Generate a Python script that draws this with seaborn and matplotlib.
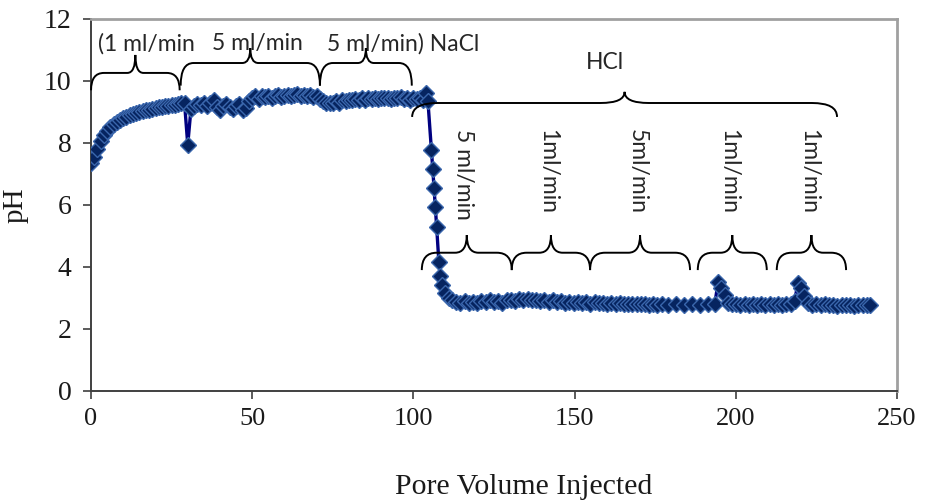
"""pH of effluent vs pore volume injected (NaCl then HCl flooding)."""
import matplotlib
matplotlib.use("Agg")

import matplotlib.pyplot as plt
import pandas as pd
import seaborn as sns
from matplotlib.patches import PathPatch
from matplotlib.path import Path

# ---------------------------------------------------------------------------
# Data
# ---------------------------------------------------------------------------

pv_nacl = [
    0, 1, 2, 3, 4, 5, 6, 7, 8, 9, 10, 11, 12, 13, 14, 15, 16, 17, 18, 19,
    20, 21, 22, 23, 24, 25, 26, 27, 28, 29, 30, 31, 32, 33, 34, 35, 36, 37, 38, 39,
    40, 41, 42, 43, 44, 45, 46, 47, 48, 49, 50, 51, 52, 53, 54, 55, 56, 57, 58, 59,
    60, 61, 62, 63, 64, 65, 66, 67, 68, 69, 70, 71, 72, 73, 74, 75, 76, 77, 78, 79,
    80, 81, 82, 83, 84, 85, 86, 87, 88, 89, 90, 91, 92, 93, 94, 95, 96, 97, 98, 99,
    100, 101, 102, 103, 104,
]
ph_nacl = [
    7.35, 7.55, 7.8, 8.05, 8.25, 8.4, 8.5, 8.6, 8.68, 8.74, 8.8, 8.85, 8.9, 8.93, 8.97, 9.0, 9.03, 9.06, 9.08, 9.1,
    9.12, 9.15, 9.17, 9.18, 9.2, 9.22, 9.24, 9.25, 9.28, 9.3, 7.95, 9.1, 9.2, 9.25, 9.22, 9.28, 9.2, 9.3, 9.4, 9.15,
    9.05, 9.2, 9.25, 9.15, 9.1, 9.2, 9.25, 9.05, 9.12, 9.35, 9.45, 9.5, 9.42, 9.5, 9.48, 9.52, 9.45, 9.5, 9.55, 9.48,
    9.52, 9.56, 9.5, 9.55, 9.58, 9.52, 9.56, 9.5, 9.54, 9.48, 9.5, 9.42, 9.35, 9.3, 9.28, 9.3, 9.35, 9.3, 9.38, 9.35,
    9.4, 9.38, 9.42, 9.4, 9.44, 9.4, 9.45, 9.42, 9.45, 9.43, 9.46, 9.44, 9.46, 9.42, 9.45, 9.44, 9.47, 9.43, 9.45, 9.4,
    9.46, 9.42, 9.45, 9.4, 9.6,
]

pv_drop = [104.5, 105.6, 106.0, 106.4, 106.8, 107.2, 107.9, 108.3, 108.9, 109.8, 110.9]
ph_drop = [9.35, 7.77, 7.16, 6.55, 5.94, 5.3, 4.15, 3.7, 3.42, 3.15, 3.0]

pv_hcl = [
    112.0, 113.3, 114.6, 115.9, 117.2, 118.5, 119.8, 121.1, 122.4, 123.7,
    125.0, 126.3, 127.6, 128.9, 130.2, 131.5, 132.8, 134.1, 135.4, 136.7,
    138.0, 139.3, 140.6, 141.9, 143.2, 144.5, 145.8, 147.1, 148.4, 149.7,
    151.0, 152.3, 153.6, 154.9, 156.2, 157.5, 158.8, 160.1, 161.4, 162.7,
    164.0, 165.3, 166.6, 167.9, 169.2, 170.5, 171.8, 173.1, 174.4, 175.7,
    177.0, 179.0, 181.5, 184.0, 186.5, 189.0, 191.5, 193.5, 194.5, 195.5,
    196.5, 197.5, 198.8, 200.1, 201.4, 202.7, 204.0, 205.3, 206.6, 207.9,
    209.2, 210.5, 211.8, 213.1, 214.4, 215.7, 217.0, 218.3, 219.2, 220.2,
    221.2, 222.4, 223.7, 225.0, 226.3, 227.6, 228.9, 230.2, 231.5, 232.8,
    234.1, 235.4, 236.7, 238.0, 239.3, 240.6, 241.6,
]
ph_hcl = [
    2.95, 2.88, 2.85, 2.9, 2.83, 2.88, 2.85, 2.9, 2.86, 2.92,
    2.87, 2.9, 2.85, 2.93, 2.95, 2.9, 2.97, 2.93, 2.98, 2.92,
    2.95, 2.9, 2.93, 2.88, 2.92, 2.86, 2.9, 2.85, 2.88, 2.83,
    2.87, 2.84, 2.86, 2.82, 2.86, 2.83, 2.85, 2.81, 2.84, 2.8,
    2.83, 2.8, 2.82, 2.79, 2.82, 2.79, 2.81, 2.78, 2.8, 2.78,
    2.8, 2.78, 2.79, 2.77, 2.79, 2.78, 2.8, 2.82, 3.5, 3.32,
    3.1, 2.85, 2.8, 2.82, 2.78, 2.8, 2.77, 2.8, 2.78, 2.81,
    2.78, 2.8, 2.77, 2.8, 2.78, 2.81, 2.8, 2.9, 3.48, 3.32,
    3.05, 2.85, 2.78, 2.8, 2.76, 2.79, 2.76, 2.78, 2.75, 2.78,
    2.76, 2.78, 2.75, 2.78, 2.76, 2.77, 2.77,
]

# flow-rate intervals (pore volumes) shown with braces
nacl_spans = [(0, 27.5), (27.8, 71), (71, 99.5)]
nacl_labels = ["(1 ml/min", "5 ml/min", "5 ml/min) NaCl"]
nacl_label_pv = [2.2, 37.5, 73.2]
hcl_span = (99.6, 231.4)
hcl_steps = [(102.6, 130.5), (130.5, 154.8), (154.8, 185.8), (188.2, 209.6), (212.7, 234.2)]
hcl_labels = ["5 ml/min", "1ml/min", "5ml/min", "1ml/min", "1ml/min"]

df = pd.DataFrame({
    "pv": pv_nacl + pv_drop + pv_hcl,
    "ph": ph_nacl + ph_drop + ph_hcl,
})


def draw_brace(ax, x0, x1, y_mid, y_end, y_tip, hook, curl, lw=1.4):
    """Horizontal curly brace with its point upwards."""
    xc = (x0 + x1) / 2
    verts = [
        (x0, y_end), (x0, y_mid), (x0 + hook, y_mid),
        (xc - curl, y_mid),
        (xc, y_mid), (xc, y_tip),
        (xc, y_mid), (xc + curl, y_mid),
        (x1 - hook, y_mid),
        (x1, y_mid), (x1, y_end),
    ]
    codes = [
        Path.MOVETO, Path.CURVE3, Path.CURVE3,
        Path.LINETO,
        Path.CURVE3, Path.CURVE3,
        Path.CURVE3, Path.CURVE3,
        Path.LINETO,
        Path.CURVE3, Path.CURVE3,
    ]
    ax.add_patch(PathPatch(Path(verts, codes), fill=False, lw=lw,
                           edgecolor="black", clip_on=False, zorder=5))


# ---------------------------------------------------------------------------
# Plot
# ---------------------------------------------------------------------------

sns.set_style("white")
fig = plt.figure(figsize=(9.26, 5.01), dpi=100)
ax = fig.add_axes([0.0983, 0.2196, 0.8704, 0.7425])

sns.lineplot(
    data=df, x="pv", y="ph", ax=ax, sort=False, estimator=None,
    color="#000080", lw=2.4, marker="D", markersize=8.6,
    markerfacecolor="#062460", markeredgecolor="#3A66AC", markeredgewidth=1.0,
    zorder=3,
)

ax.set_xlim(0, 250)
ax.set_ylim(0, 12)
ax.set_xticks([0, 50, 100, 150, 200, 250])
ax.set_yticks([0, 2, 4, 6, 8, 10, 12])

serif = "Liberation Serif"
ax.set_xlabel("Pore Volume Injected", fontsize=21.5, family=serif, color="#1a1a1a")
ax.set_ylabel("pH", fontsize=21, family=serif, color="#1a1a1a")
ax.xaxis.set_label_coords(0.537, -0.222)
ax.yaxis.set_label_coords(-0.078, 0.5)
for lab in ax.get_xticklabels():
    lab.set_fontfamily(serif)
    lab.set_fontsize(19)
for lab in ax.get_yticklabels():
    lab.set_fontfamily(serif)
    lab.set_fontsize(20)
ax.tick_params(axis="both", direction="out", length=6, width=1.2, color="#404040",
               labelcolor="#1a1a1a", left=True, bottom=True)
ax.tick_params(axis="x", pad=6)
ax.tick_params(axis="y", pad=8)

for side in ("left", "bottom"):
    ax.spines[side].set_color("#404040")
    ax.spines[side].set_linewidth(1.4)
for side in ("top", "right"):
    ax.spines[side].set_color("#a0a0a0")
    ax.spines[side].set_linewidth(2.0)

# braces and flow-rate annotations
sans = "Lato"
for (x0, x1) in nacl_spans[:1]:
    draw_brace(ax, x0, x1, 10.26, 9.7, 10.84, hook=4.0, curl=2.5)
for (x0, x1) in nacl_spans[1:]:
    draw_brace(ax, x0, x1, 10.58, 9.85, 11.06, hook=4.0, curl=2.5)
for xpos, label in zip(nacl_label_pv, nacl_labels):
    ax.text(xpos, 11.2, label, fontsize=16.5, family=sans, ha="left", va="center")

draw_brace(ax, hcl_span[0], hcl_span[1], 9.29, 8.84, 9.65, hook=7.8, curl=7.5)
ax.text((hcl_span[0] + hcl_span[1]) / 2 - 6, 10.6, "HCl", fontsize=16.5, family=sans,
        ha="center", va="center")

for (x0, x1), label in zip(hcl_steps, hcl_labels):
    draw_brace(ax, x0, x1, 4.46, 3.9, 5.03, hook=4.6, curl=3.6)
    ax.text((x0 + x1) / 2 - 1.0, 8.45, label, fontsize=16.5, family=sans,
            rotation=270, ha="center", va="top")

fig.savefig("out.png", dpi=100)
